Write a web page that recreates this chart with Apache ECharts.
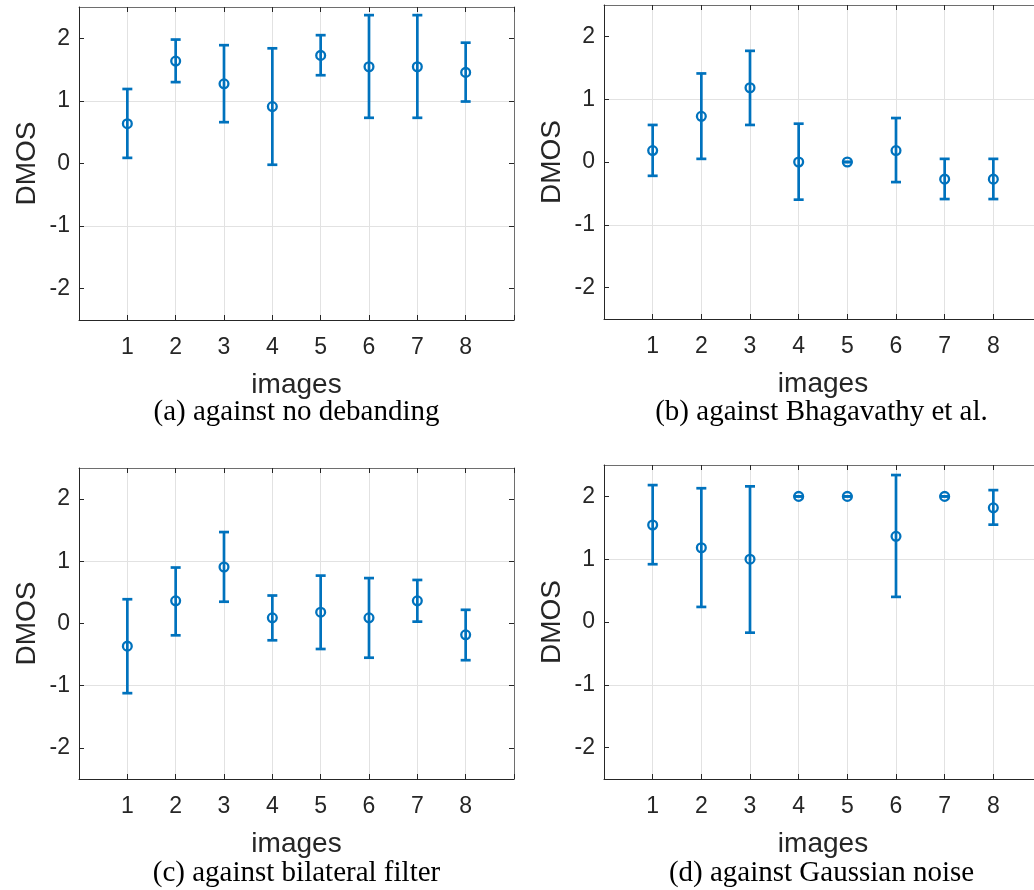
<!DOCTYPE html>
<html>
<head>
<meta charset="utf-8">
<script src="https://cdn.jsdelivr.net/npm/echarts@6/dist/echarts.min.js"></script>
<style>
  html, body { margin: 0; padding: 0; background: #fff; }
  #chart { width: 1034px; height: 890px; }
</style>
</head>
<body>
<div id="chart"></div>
<script>
// Image indices on the x axis
const images = [1, 2, 3, 4, 5, 6, 7, 8];
const yTicks = [-2, -1, 0, 1, 2];

// (a) against no debanding
const meanA = [0.636, 1.636, 1.273, 0.909, 1.727, 1.545, 1.545, 1.455];
const lowA  = [0.09, 1.30, 0.66, -0.02, 1.41, 0.73, 0.73, 0.99];
const highA = [1.19, 1.98, 1.89, 1.84, 2.05, 2.37, 2.37, 1.93];

// (b) against Bhagavathy et al.
const meanB = [0.182, 0.727, 1.182, 0, 0, 0.182, -0.273, -0.273];
const lowB  = [-0.22, 0.05, 0.59, -0.60, 0, -0.32, -0.59, -0.59];
const highB = [0.59, 1.41, 1.77, 0.61, 0, 0.70, 0.05, 0.05];

// (c) against bilateral filter
const meanC = [-0.364, 0.364, 0.909, 0.091, 0.182, 0.091, 0.364, -0.182];
const lowC  = [-1.12, -0.19, 0.35, -0.27, -0.41, -0.55, 0.03, -0.59];
const highC = [0.39, 0.90, 1.47, 0.45, 0.77, 0.73, 0.70, 0.22];

// (d) against Gaussian noise
const meanD = [1.545, 1.182, 1.0, 2.0, 2.0, 1.364, 2.0, 1.818];
const lowD  = [0.92, 0.24, -0.17, 2.0, 2.0, 0.40, 2.0, 1.55];
const highD = [2.18, 2.13, 2.16, 2.0, 2.0, 2.34, 2.0, 2.10];

const captions = [
  '(a) against no debanding',
  '(b) against Bhagavathy et al.',
  '(c) against bilateral filter',
  '(d) against Gaussian noise'
];

const BLUE = '#0072BD';
const TEXT = '#262626';
const GRIDLINE = '#e2e2e2';
const SANS = '"Liberation Sans", Arial, Helvetica, sans-serif';
const SERIF = '"Liberation Serif", "Times New Roman", Times, serif';

const panels = [
  { mean: meanA, low: lowA, high: highA, grid: { left: 79, top: 7, width: 435, height: 313 } },
  { mean: meanB, low: lowB, high: highB, grid: { left: 604, top: 5, width: 438, height: 314 } },
  { mean: meanC, low: lowC, high: highC, grid: { left: 79, top: 468, width: 435, height: 311 } },
  { mean: meanD, low: lowD, high: highD, grid: { left: 604, top: 465, width: 438, height: 314 } }
];

const grids = [], xAxes = [], yAxes = [], series = [], graphics = [];

function intLabel(v) {
  return Math.abs(v - Math.round(v)) < 1e-9 ? String(Math.round(v)) : '';
}

// Vertical error bar with caps plus an open circle at the mean
function renderErrorBar(params, api) {
  const x = api.value(0);
  const pm = api.coord([x, api.value(1)]);
  const pl = api.coord([x, api.value(2)]);
  const ph = api.coord([x, api.value(3)]);
  const cap = 5;
  const stroke = { stroke: BLUE, lineWidth: 2.7, lineCap: 'butt' };
  return {
    type: 'group',
    children: [
      { type: 'line', shape: { x1: pl[0], y1: pl[1], x2: ph[0], y2: ph[1] }, style: stroke },
      { type: 'line', shape: { x1: pl[0] - cap, y1: pl[1], x2: pl[0] + cap, y2: pl[1] }, style: stroke },
      { type: 'line', shape: { x1: ph[0] - cap, y1: ph[1], x2: ph[0] + cap, y2: ph[1] }, style: stroke },
      { type: 'circle', shape: { cx: pm[0], cy: pm[1], r: 4.4 }, style: { fill: 'none', stroke: BLUE, lineWidth: 2.3 } }
    ]
  };
}

panels.forEach((p, i) => {
  grids.push(Object.assign({ containLabel: false, outerBoundsMode: 'none' }, p.grid));

  // bottom x axis with labels
  xAxes.push({
    type: 'value', gridIndex: i, min: 0, max: 9, interval: 1,
    position: 'bottom',
    axisLine: { show: true, onZero: false, lineStyle: { color: TEXT, width: 1 } },
    axisTick: { show: true, inside: true, length: 5, lineStyle: { color: TEXT } },
    axisLabel: {
      show: true, margin: 16, color: TEXT, fontFamily: SANS, fontSize: 23,
      formatter: v => (v >= 1 && v <= 8) ? String(v) : ''
    },
    splitLine: { show: true, lineStyle: { color: GRIDLINE, width: 1 } },
    name: 'images', nameLocation: 'middle', nameGap: 51,
    nameTextStyle: { color: TEXT, fontFamily: SANS, fontSize: 28 }
  });
  // top x axis: box edge with inner ticks
  xAxes.push({
    type: 'value', gridIndex: i, min: 0, max: 9, interval: 1,
    position: 'top',
    axisLine: { show: true, onZero: false, lineStyle: { color: '#6e6e6e', width: 1 } },
    axisTick: { show: true, inside: true, length: 5, lineStyle: { color: TEXT } },
    axisLabel: { show: false },
    splitLine: { show: false }
  });
  // left y axis with labels
  yAxes.push({
    type: 'value', gridIndex: i, min: -2.5, max: 2.5, interval: 0.5,
    position: 'left',
    axisLine: { show: true, onZero: false, lineStyle: { color: TEXT, width: 1 } },
    axisTick: { show: true, inside: true, length: 5, customValues: yTicks, lineStyle: { color: TEXT } },
    axisLabel: {
      show: true, margin: 9, color: TEXT, fontFamily: SANS, fontSize: 23,
      customValues: yTicks, formatter: intLabel
    },
    splitLine: { show: true, lineStyle: { color: ['rgba(0,0,0,0)', GRIDLINE], width: 1 } },
    name: 'DMOS', nameLocation: 'middle', nameGap: 38, nameRotate: 90,
    nameTextStyle: { color: TEXT, fontFamily: SANS, fontSize: 28 }
  });
  // right y axis: box edge with inner ticks
  yAxes.push({
    type: 'value', gridIndex: i, min: -2.5, max: 2.5, interval: 0.5,
    position: 'right',
    axisLine: { show: true, onZero: false, lineStyle: { color: '#6e6e6e', width: 1 } },
    axisTick: { show: true, inside: true, length: 5, customValues: yTicks, lineStyle: { color: TEXT } },
    axisLabel: { show: false },
    splitLine: { show: false }
  });

  series.push({
    type: 'custom',
    xAxisIndex: 2 * i, yAxisIndex: 2 * i,
    renderItem: renderErrorBar,
    encode: { x: 0, y: [1, 2, 3] },
    data: images.map((img, k) => [img, p.mean[k], p.low[k], p.high[k]]),
    z: 5
  });

  graphics.push({
    type: 'text',
    x: p.grid.left + 435 / 2,
    y: i < 2 ? 412 : 873,
    style: {
      text: captions[i], fill: '#000', font: '29px ' + SERIF,
      align: 'center', verticalAlign: 'middle'
    }
  });
});

const chart = echarts.init(document.getElementById('chart'), null, { renderer: 'canvas' });
chart.setOption({
  animation: false,
  backgroundColor: '#fff',
  grid: grids,
  xAxis: xAxes,
  yAxis: yAxes,
  series: series,
  graphic: graphics
});
</script>
</body>
</html>
